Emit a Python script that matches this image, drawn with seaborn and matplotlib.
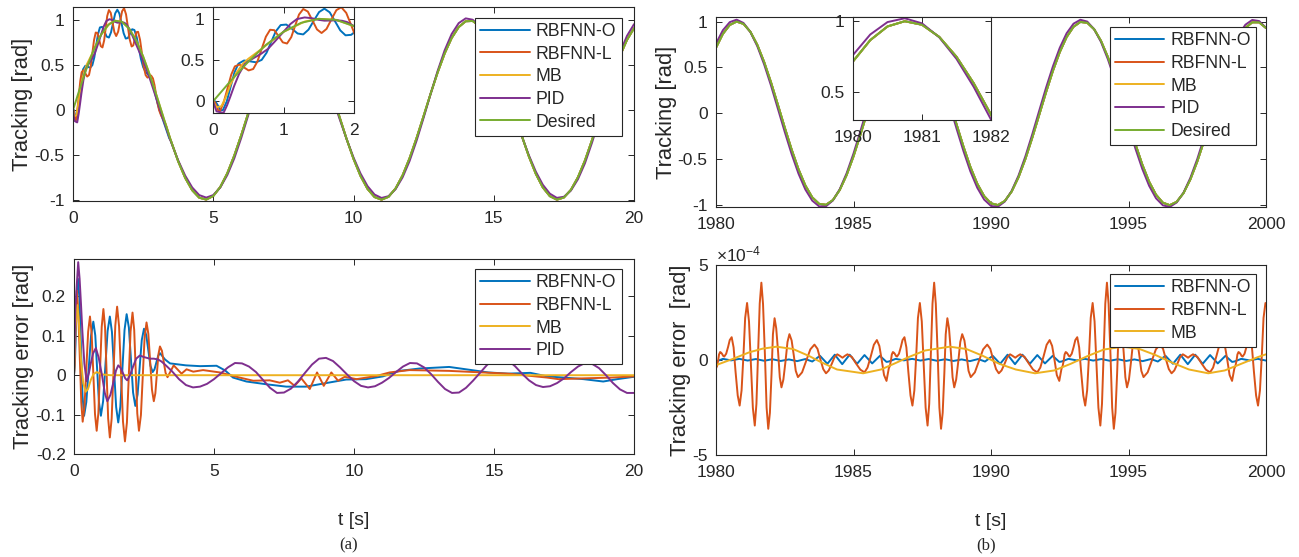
import numpy as np
import pandas as pd
import matplotlib
matplotlib.use("Agg")
import matplotlib.pyplot as plt
from matplotlib.ticker import FuncFormatter
import seaborn as sns

# ======================= panel (a) data =======================
t_a = np.linspace(0, 20, 81)  # sample grid, 0.25 s
desired_a = [0.000, 0.247, 0.479, 0.682, 0.841, 0.949, 0.997, 0.984, 0.909, 0.778,
             0.598, 0.382, 0.141, -0.108, -0.351, -0.572, -0.757, -0.895, -0.978, -0.999,
             -0.959, -0.859, -0.706, -0.508, -0.279, -0.033, 0.215, 0.450, 0.657, 0.823,
             0.938, 0.994, 0.989, 0.923, 0.798, 0.625, 0.412, 0.174, -0.075, -0.319,
             -0.544, -0.735, -0.880, -0.971, -1.000, -0.968, -0.875, -0.729, -0.537, -0.311,
             -0.066, 0.183, 0.420, 0.632, 0.804, 0.926, 0.991, 0.994, 0.935, 0.818,
             0.650, 0.442, 0.206, -0.042, -0.288, -0.516, -0.712, -0.864, -0.961, -1.000,
             -0.976, -0.891, -0.751, -0.564, -0.338, -0.099, 0.150, 0.390, 0.605, 0.783,
             0.913]

# tracking errors (bottom-left)
err_O_a_t = [0, 0.035, 0.07, 0.105, 0.14, 0.195, 0.25, 0.305, 0.36, 0.44, 0.525, 0.61, 0.69,
             0.76, 0.825, 0.89, 0.96, 1.04, 1.12, 1.20, 1.28, 1.355, 1.43, 1.505, 1.58, 1.655,
             1.73, 1.805, 1.88, 1.96, 2.035, 2.11, 2.19, 2.27, 2.345, 2.42, 2.50, 2.58, 2.655,
             2.73, 2.81, 2.875, 2.94, 3.005, 3.07, 3.25, 3.43,
             4.0, 4.5, 5.09, 5.4, 5.68, 6.16, 6.87, 7.58, 8.29, 9.0, 9.72, 10.43, 11.03, 11.62,
             12.34, 13.4, 14.0, 14.8, 15.5, 16.3, 16.9, 17.5, 18.2, 18.9, 19.4, 20.0]
err_O_a = [0, 0.036, 0.12, 0.21, 0.245, 0.194, 0.071, -0.052, -0.103, -0.068, 0.017, 0.101,
           0.136, 0.101, 0.017, -0.068, -0.103, -0.066, 0.023, 0.112, 0.149, 0.11, 0.015,
           -0.081, -0.12, -0.08, 0.018, 0.115, 0.155, 0.121, 0.039, -0.044, -0.078, -0.049,
           0.02, 0.089, 0.118, 0.102, 0.063, 0.024, 0.008, 0.015, 0.032, 0.049, 0.056, 0.04,
           0.03,
           0.025, 0.023, 0.024, 0.012, -0.006, -0.016, -0.023, -0.029, -0.029, -0.02, -0.011,
           -0.01, -0.003, 0.011, 0.017, 0.021, 0.015, 0.007, 0.004, 0.006, -0.003, -0.006,
           -0.01, -0.016, -0.01, -0.004]
err_L_a_t = [0, 0.025, 0.05, 0.075, 0.1, 0.15, 0.205, 0.26, 0.31, 0.375, 0.44, 0.505, 0.57,
             0.63, 0.69, 0.75, 0.81, 0.87, 0.93, 0.99, 1.05, 1.11, 1.165, 1.22, 1.28, 1.345,
             1.41, 1.475, 1.54, 1.61, 1.68, 1.75, 1.82, 1.89, 1.955, 2.02, 2.09, 2.15, 2.205,
             2.26, 2.32, 2.39, 2.455, 2.52, 2.59, 2.655, 2.72, 2.785, 2.85, 2.905, 2.96, 3.015,
             3.07, 3.14, 3.205, 3.27, 3.34, 3.45, 3.56,
             3.84, 4.02, 4.26, 4.61, 5.21, 5.8, 6.4, 6.99, 7.35, 7.64, 7.88, 8.12, 8.42, 8.68,
             8.92, 9.19, 9.43, 9.67, 10.09, 10.8, 11.27, 11.98, 13.4, 14.6, 15.5, 16.9, 17.3,
             18.2, 19.2, 20.0]
err_L_a = [0, 0.031, 0.108, 0.184, 0.215, 0.166, 0.049, -0.069, -0.118, -0.079, 0.016, 0.11,
           0.149, 0.107, 0.004, -0.099, -0.141, -0.096, 0.014, 0.123, 0.168, 0.12, 0.005,
           -0.11, -0.158, -0.11, 0.008, 0.126, 0.174, 0.124, 0.003, -0.118, -0.168, -0.12,
           -0.005, 0.111, 0.159, 0.115, 0.009, -0.097, -0.141, -0.101, -0.004, 0.094, 0.134,
           0.105, 0.034, -0.037, -0.066, -0.046, 0.004, 0.053, 0.073, 0.062, 0.034, 0.006,
           -0.005, 0.01, 0.025,
           0.004, 0.015, 0.009, 0.013, 0.007, -0.004, -0.014, -0.013, -0.019, -0.013, -0.027,
           -0.008, -0.035, 0.007, -0.027, 0.007, -0.014, -0.004, -0.01, -0.002, 0.007, 0.013,
           0.011, 0.007, 0.004, -0.006, -0.01, -0.008, -0.006, -0.003]
err_MB_a_t = [0, 0.05, 0.12, 0.18, 0.25, 0.33, 0.42, 0.5, 0.6, 0.7, 0.81, 1.0, 1.3, 20.0]
err_MB_a = [0, 0.12, 0.178, 0.13, 0.04, -0.02, -0.042, -0.035, -0.012, 0.003, 0.008, 0.002,
            0.0, 0.0]
pid_err_early_t = [0, 0.05, 0.1, 0.15, 0.2, 0.25, 0.3, 0.37, 0.45, 0.53, 0.6, 0.68, 0.78,
                   0.88, 1.0, 1.1, 1.19, 1.3, 1.4, 1.5, 1.58, 1.67, 1.75, 1.83, 1.9, 2.0, 2.1,
                   2.22, 2.35, 2.5, 2.71, 2.85, 3.0, 3.12, 3.25]
pid_err_early = [0, 0.17, 0.23, 0.287, 0.245, 0.18, 0.11, 0.03, -0.015, 0.005, 0.03, 0.055,
                 0.069, 0.045, 0.0, -0.045, -0.066, -0.05, -0.02, 0.012, 0.025, 0.018, 0.005,
                 -0.008, -0.013, 0.0, 0.02, 0.042, 0.05, 0.046, 0.042, 0.042, 0.04, 0.035, 0.027]
# PID error on the 0.25 s grid from t = 3.5 s
pid_err_tail = [0.010, -0.010, -0.025, -0.031, -0.029, -0.022, -0.010, 0.005, 0.020, 0.031,
                0.030, 0.022, 0.008, -0.012, -0.032, -0.045, -0.044, -0.034, -0.016, 0.006,
                0.027, 0.042, 0.044, 0.036, 0.020, 0.002, -0.015, -0.027, -0.031, -0.028,
                -0.019, -0.007, 0.008, 0.022, 0.031, 0.030, 0.020, 0.003, -0.017, -0.035,
                -0.045, -0.044, -0.032, -0.014, 0.006, 0.026, 0.040, 0.045, 0.038, 0.023,
                0.004, -0.013, -0.025, -0.030, -0.028, -0.020, -0.008, 0.008, 0.022, 0.031,
                0.029, 0.018, 0.000, -0.020, -0.036, -0.045, -0.045]

# early transient of the tracking curves (top-left), read on the same instants
trk_O_early = [0, -0.001, -0.05, -0.105, -0.106, 0.0, 0.176, 0.352, 0.455, 0.494, 0.484,
               0.472, 0.501, 0.588, 0.717, 0.845, 0.922, 0.928, 0.877, 0.820, 0.809, 0.867,
               0.975, 1.079, 1.12, 1.076, 0.969, 0.858, 0.798, 0.804, 0.855, 0.902, 0.893,
               0.814, 0.695, 0.571, 0.480, 0.429, 0.403, 0.376, 0.318, 0.25, 0.168, 0.088,
               0.015, -0.148, -0.314]
trk_L_early = [0, -0.006, -0.058, -0.109, -0.115, -0.017, 0.155, 0.326, 0.423, 0.445, 0.41,
               0.374, 0.391, 0.482, 0.633, 0.781, 0.865, 0.86, 0.788, 0.713, 0.699, 0.776,
               0.914, 1.049, 1.116, 1.085, 0.979, 0.869, 0.826, 0.875, 0.991, 1.102, 1.137,
               1.069, 0.932, 0.79, 0.709, 0.722, 0.797, 0.869, 0.873, 0.784, 0.638, 0.489,
               0.39, 0.362, 0.375, 0.385, 0.353, 0.28, 0.176, 0.073, -0.002, -0.06, -0.097,
               -0.134, -0.192, -0.313]
trk_MB_early_t = [0, 0.05, 0.12, 0.18, 0.25, 0.33, 0.42, 0.5, 0.6, 0.7, 0.81, 1.0, 1.3]
trk_MB_early = [0, -0.07, -0.058, 0.049, 0.207, 0.344, 0.45, 0.514, 0.577, 0.641, 0.716,
                0.839, 0.964]
trk_PID_early = [0, -0.12, -0.13, -0.138, -0.046, 0.067, 0.186, 0.332, 0.45, 0.50, 0.535,
                 0.574, 0.634, 0.726, 0.841, 0.936, 0.994, 1.014, 1.005, 0.985, 0.975, 0.977,
                 0.979, 0.974, 0.959, 0.909, 0.843, 0.754, 0.661, 0.552, 0.378, 0.245, 0.101,
                 -0.013, -0.135]

# ======================= panel (b) data =======================
t_b = np.linspace(1980, 2000, 81)
desired_b = [0.715, 0.866, 0.963, 1.000, 0.975, 0.889, 0.748, 0.560, 0.338, 0.094,
             -0.155, -0.394, -0.609, -0.786, -0.915, -0.986, -0.996, -0.945, -0.834, -0.672,
             -0.468, -0.234, 0.013, 0.260, 0.491, 0.691, 0.849, 0.953, 0.998, 0.982,
             0.904, 0.770, 0.588, 0.369, 0.128, -0.122, -0.363, -0.583, -0.766, -0.901,
             -0.980, -0.999, -0.955, -0.852, -0.696, -0.497, -0.266, -0.019, 0.229, 0.462,
             0.667, 0.831, 0.943, 0.996, 0.987, 0.917, 0.790, 0.614, 0.400, 0.160,
             -0.089, -0.333, -0.556, -0.744, -0.886, -0.973, -1.000, -0.964, -0.869, -0.719,
             -0.525, -0.298, -0.053, 0.196, 0.433, 0.642, 0.812, 0.931, 0.992, 0.992,
             0.930]
pid_b = [0.761, 0.906, 0.994, 1.021, 0.985, 0.886, 0.733, 0.534, 0.303, 0.051,
         -0.202, -0.443, -0.657, -0.830, -0.951, -1.013, -1.012, -0.949, -0.826, -0.652,
         -0.437, -0.195, 0.058, 0.308, 0.540, 0.738, 0.890, 0.986, 1.021, 0.993,
         0.903, 0.756, 0.564, 0.334, 0.086, -0.169, -0.412, -0.632, -0.810, -0.939,
         -1.009, -1.017, -0.961, -0.845, -0.678, -0.468, -0.228, 0.026, 0.278, 0.511,
         0.714, 0.873, 0.977, 1.020, 1.000, 0.917, 0.778, 0.590, 0.367, 0.119,
         -0.136, -0.382, -0.604, -0.789, -0.925, -1.002, -1.019, -0.971, -0.864, -0.702,
         -0.498, -0.261, -0.009, 0.244, 0.483, 0.689, 0.854, 0.966, 1.018, 1.006,
         0.932]

# bottom-right errors (units of 1e-4 rad): one burst period,
# relative to the start of each burst; the bursts recur at these instants
burst_starts_b = [1980.0, 1986.283, 1992.566, 1998.850]
err_L_b_rel = [0.00, 0.04, 0.08, 0.11, 0.15, 0.19, 0.23, 0.26, 0.30, 0.37, 0.44, 0.50, 0.57,
               0.64, 0.71, 0.79, 0.86, 0.93, 1.00, 1.06, 1.13, 1.20, 1.27, 1.34, 1.41, 1.47,
               1.53, 1.59, 1.65, 1.71, 1.78, 1.84, 1.90, 1.96, 2.02, 2.07, 2.13, 2.19, 2.26,
               2.32, 2.38, 2.45, 2.53, 2.60, 2.67, 2.75, 2.83, 2.90, 2.98, 3.13, 3.28, 3.43,
               3.58, 3.69, 3.79, 3.90, 4.00, 4.10, 4.21, 4.31, 4.41, 4.50, 4.60, 4.69, 4.78,
               4.94, 5.09, 5.25, 5.40, 5.51, 5.63, 5.74, 5.85, 5.94, 6.03, 6.11, 6.20]
err_L_b_burst = [-0.44, -0.31, -0.01, 0.29, 0.42, 0.38, 0.30, 0.22, 0.18, 0.33, 0.69, 1.05,
                 1.20, 0.66, -0.60, -1.87, -2.40, -1.60, 0.30, 2.21, 3.00, 2.03, -0.23, -2.51,
                 -3.45, -2.31, 0.31, 2.97, 4.07, 2.95, 0.23, -2.50, -3.62, -2.78, -0.71, 1.35,
                 2.20, 1.67, 0.38, -0.91, -1.44, -1.03, -0.04, 0.95, 1.36, 1.03, 0.23, -0.57,
                 -0.90, -0.65, -0.05, 0.56, 0.81, 0.59, 0.06, -0.48, -0.70, -0.55, -0.20, 0.15,
                 0.30, 0.22, 0.12, 0.22, 0.30, 0.16, -0.18, -0.51, -0.65, -0.40, 0.20, 0.80,
                 1.05, 0.74, -0.03, -0.79, -1.10]
err_O_b_rel = [0.00, 0.25, 0.55, 0.85, 1.15, 1.45, 1.75, 2.05, 2.35, 2.65, 2.95, 3.25, 3.50,
               3.78, 4.05, 4.32, 4.59, 4.86, 5.13, 5.40, 5.68, 5.96, 6.20]
err_O_b_burst = [-0.08, 0.06, -0.02, 0.06, -0.03, 0.05, -0.04, 0.04, -0.05, 0.03, -0.06, 0.05,
                 -0.08, 0.22, -0.20, 0.28, -0.22, 0.28, -0.20, 0.26, -0.18, 0.22, -0.10]
err_MB_b_t = [1980.0, 1980.6, 1981.2, 1981.7, 1982.2, 1982.8, 1983.4, 1983.8, 1984.4, 1985.35,
              1986.0, 1986.5, 1987.0, 1987.6, 1988.5, 1989.1, 1989.7, 1990.3, 1990.9, 1991.6,
              1992.3, 1992.9, 1993.5, 1994.1, 1994.8, 1995.4, 1996.0, 1996.6, 1997.2, 1997.9,
              1998.5, 1999.1, 1999.7, 2000.0]
err_MB_b = [-0.27, 0.05, 0.40, 0.60, 0.70, 0.58, 0.20, -0.10, -0.50, -0.70,
            -0.50, -0.18, 0.15, 0.50, 0.70, 0.58, 0.22, -0.20, -0.50, -0.70,
            -0.55, -0.20, 0.20, 0.55, 0.70, 0.58, 0.25, -0.15, -0.50, -0.70,
            -0.55, -0.20, 0.15, 0.30]

labels_track = ["RBFNN-O", "RBFNN-L", "MB", "PID", "Desired"]
labels_err_a = ["RBFNN-O", "RBFNN-L", "MB", "PID"]
labels_err_b = ["RBFNN-O", "RBFNN-L", "MB"]
colors = ["#0072BD", "#D95319", "#EDB120", "#7E2F8E", "#77AC30"]

# ----------------- assemble series from the arrays -----------------
i35 = 14  # index of t = 3.5 s on t_a
i15 = 6   # index of t = 1.5 s on t_a
tail_t = list(t_a[i35:])
nO, nL = len(trk_O_early), len(trk_L_early)
trk_a = [
    (err_O_a_t[:nO] + tail_t, trk_O_early + desired_a[i35:]),
    (err_L_a_t[:nL] + tail_t, trk_L_early + desired_a[i35:]),
    (trk_MB_early_t + list(t_a[i15:]), trk_MB_early + desired_a[i15:]),
    (pid_err_early_t + tail_t,
     trk_PID_early + list(np.array(desired_a[i35:]) - np.array(pid_err_tail))),
    (list(t_a), desired_a),
]
err_a = [
    (err_O_a_t, err_O_a),
    (err_L_a_t, err_L_a),
    (err_MB_a_t, err_MB_a),
    (pid_err_early_t + tail_t, pid_err_early + pid_err_tail),
]
trk_b = [
    (list(t_b), desired_b),
    (list(t_b), desired_b),
    (list(t_b), desired_b),
    (list(t_b), pid_b),
    (list(t_b), desired_b),
]


def bursts(rel, vals):
    tt, vv = [], []
    for s in burst_starts_b:
        for r, v in zip(rel, vals):
            if s + r <= 2000.0 + 1e-9:
                tt.append(s + r)
                vv.append(v)
    return tt, vv


err_b = [
    bursts(err_O_b_rel, err_O_b_burst),
    bursts(err_L_b_rel, err_L_b_burst),
    (err_MB_b_t, err_MB_b),
]

# ----------------------------- style -----------------------------
sns.set_theme(style="ticks")
plt.rcParams.update({
    "font.family": ["Liberation Sans", "DejaVu Sans"],
    "axes.unicode_minus": False,
    "mathtext.fontset": "custom",
    "mathtext.rm": "Liberation Sans",
    "mathtext.it": "Liberation Sans",
    "xtick.direction": "in",
    "ytick.direction": "in",
    "xtick.top": True,
    "ytick.right": True,
    "axes.edgecolor": "#262626",
    "axes.linewidth": 0.8,
    "xtick.color": "#262626",
    "ytick.color": "#262626",
    "xtick.labelcolor": "#262626",
    "ytick.labelcolor": "#262626",
    "xtick.major.size": 4,
    "ytick.major.size": 4,
    "xtick.major.width": 0.7,
    "ytick.major.width": 0.7,
    "xtick.major.pad": 7,
    "ytick.major.pad": 6,
    "axes.facecolor": "white",
})

TICK_FS = 12.5
LABEL_FS = 15.8
LEG_FS = 12.7
LW = 1.4
fmt = FuncFormatter(lambda v, p: f"{v:g}")


def line(ax, t, y, c, label=None):
    df = pd.DataFrame({"t": np.asarray(t, dtype=float), "y": np.asarray(y, dtype=float)})
    sns.lineplot(data=df, x="t", y="y", ax=ax, color=c, linewidth=LW,
                 estimator=None, sort=False, label=label, legend=False)


def style(ax, xlim, ylim, xticks, yticks):
    ax.set_xlim(*xlim)
    ax.set_ylim(*ylim)
    ax.set_xticks(xticks)
    ax.set_yticks(yticks)
    ax.xaxis.set_major_formatter(fmt)
    ax.yaxis.set_major_formatter(fmt)
    ax.tick_params(labelsize=TICK_FS)
    ax.set_xlabel("")
    ax.set_ylabel("")
    for s in ax.spines.values():
        s.set_visible(True)
        s.set_color("#262626")


def legend(ax, x, y):
    leg = ax.legend(loc="upper left", bbox_to_anchor=(x, y), borderaxespad=0,
                    frameon=True, fancybox=False, edgecolor="#262626", framealpha=1,
                    handlelength=2.8, handletextpad=0.35, labelspacing=0.32,
                    borderpad=0.3, fontsize=LEG_FS)
    leg.get_frame().set_linewidth(0.8)
    for h in leg.get_lines():
        h.set_linewidth(LW)


W, H = 1299, 557
fig = plt.figure(figsize=(W / 100, H / 100), dpi=100)


def box(x0, y0, x1, y1):
    return [x0 / W, 1 - y1 / H, (x1 - x0) / W, (y1 - y0) / H]


ax_a1 = fig.add_axes(box(73, 7, 634, 201))
ax_a2 = fig.add_axes(box(74, 259, 634, 454))
ax_b1 = fig.add_axes(box(716, 17, 1266, 207))
ax_b2 = fig.add_axes(box(716, 265, 1266, 455))
ins_a = fig.add_axes(box(213, 7, 354, 113))
ins_b = fig.add_axes(box(853, 17, 991, 120))

# ------------------------------ (a) ------------------------------
for (t, y), c, lab in zip(trk_a, colors, labels_track):
    line(ax_a1, t, y, c, lab)
style(ax_a1, (0, 20), (-1.015, 1.15), [0, 5, 10, 15, 20], [-1, -0.5, 0, 0.5, 1])
ax_a1.set_ylabel("Tracking [rad]", fontsize=LABEL_FS, labelpad=1)
legend(ax_a1, 0.7166, 0.945)

for (t, y), c in zip(trk_a, colors):
    line(ins_a, t, y, c)
style(ins_a, (0, 2), (-0.14, 1.14), [0, 1, 2], [0, 0.5, 1])

for (t, y), c, lab in zip(err_a, colors, labels_err_a):
    line(ax_a2, t, y, c, lab)
style(ax_a2, (0, 20), (-0.2, 0.295), [0, 5, 10, 15, 20], [-0.2, -0.1, 0, 0.1, 0.2])
ax_a2.set_ylabel("Tracking error [rad]", fontsize=LABEL_FS, labelpad=1)
ax_a2.set_xlabel("t [s]", fontsize=14, labelpad=24)
legend(ax_a2, 0.716, 0.949)

# ------------------------------ (b) ------------------------------
for (t, y), c, lab in zip(trk_b, colors, labels_track):
    line(ax_b1, t, y, c, lab)
style(ax_b1, (1980, 2000), (-1.02, 1.05), [1980, 1985, 1990, 1995, 2000],
      [-1, -0.5, 0, 0.5, 1])
ax_b1.set_ylabel("Tracking [rad]", fontsize=LABEL_FS, labelpad=0.5)
legend(ax_b1, 0.716, 0.947)

for (t, y), c in zip(trk_b, colors):
    line(ins_b, t, y, c)
style(ins_b, (1980, 1982), (0.30, 1.03), [1980, 1981, 1982], [0.5, 1])

for (t, y), c, lab in zip(err_b, colors, labels_err_b):
    line(ax_b2, t, y, c, lab)
style(ax_b2, (1980, 2000), (-5, 5), [1980, 1985, 1990, 1995, 2000], [-5, 0, 5])
ax_b2.set_ylabel("Tracking error  [rad]", fontsize=LABEL_FS, labelpad=0.5)
ax_b2.set_xlabel("t [s]", fontsize=14, labelpad=24)
ax_b2.text(0.0, 1.005, r"$\times10^{-4}$", transform=ax_b2.transAxes, ha="left",
           va="bottom", fontsize=TICK_FS, color="#262626")
legend(ax_b2, 0.716, 0.953)

fig.text(349 / W, 1 - 545 / H, "(a)", ha="center", va="center",
         family=["Liberation Serif", "DejaVu Serif"], fontsize=12)
fig.text(986 / W, 1 - 545 / H, "(b)", ha="center", va="center",
         family=["Liberation Serif", "DejaVu Serif"], fontsize=12)

fig.savefig("out.png", dpi=100, facecolor="white")
